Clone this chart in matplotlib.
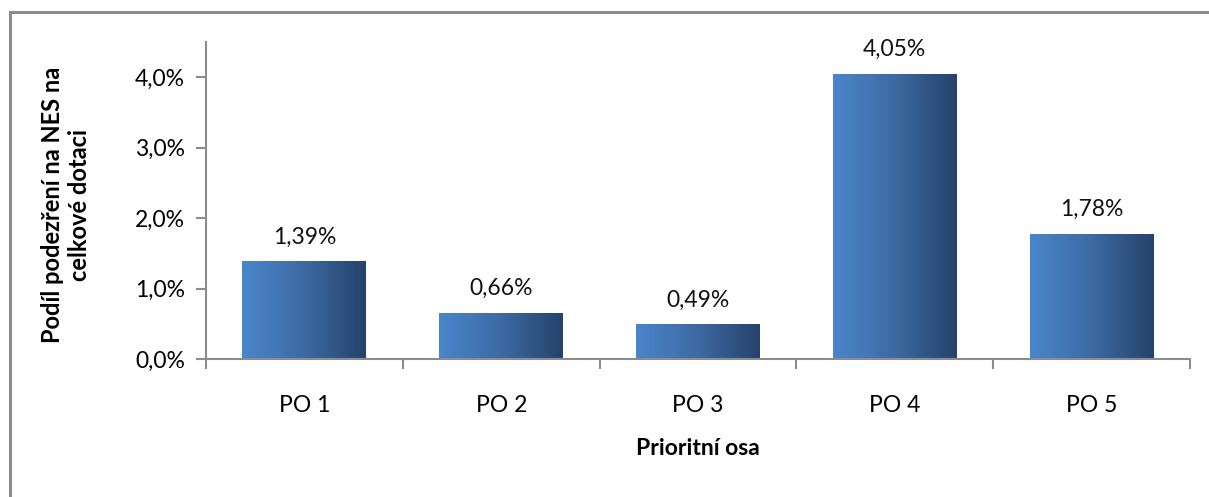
import numpy as np
import matplotlib
matplotlib.use("Agg")
import matplotlib.pyplot as plt
from matplotlib.colors import LinearSegmentedColormap
from matplotlib.lines import Line2D

categories = ["PO 1", "PO 2", "PO 3", "PO 4", "PO 5"]
values = [1.39, 0.66, 0.49, 4.05, 1.78]
value_labels = ["1,39%", "0,66%", "0,49%", "4,05%", "1,78%"]
yticks = [0, 1, 2, 3, 4]
ytick_labels = ["0,0%", "1,0%", "2,0%", "3,0%", "4,0%"]

plt.rcParams['font.family'] = ['Lato', 'DejaVu Sans']

fig = plt.figure(figsize=(12.09, 4.97), dpi=100)
ax = fig.add_axes([206 / 1209, 138 / 497, 984 / 1209, 317 / 497])

# outer chart frame: only the top and left edges fall inside the picture
fx, fy = 10 / 1209, 1 - 12 / 497
fig.add_artist(Line2D([fx, fx], [0, fy], transform=fig.transFigure,
                      color='#8c8c8c', lw=2.2, solid_capstyle='projecting'))
fig.add_artist(Line2D([fx, 1], [fy, fy], transform=fig.transFigure,
                      color='#8c8c8c', lw=2.2, solid_capstyle='projecting'))

grad = LinearSegmentedColormap.from_list('bar', ['#4a86cb', '#3d6aa3', '#25426b'])
x = np.arange(len(categories))
bars = ax.bar(x, values, width=0.63, color='none', edgecolor='none', zorder=2)
g = np.linspace(0, 1, 256).reshape(1, -1)
for b in bars:
    x0, w, h = b.get_x(), b.get_width(), b.get_height()
    im = ax.imshow(g, cmap=grad, aspect='auto', extent=(x0, x0 + w, 0, h),
                   zorder=2, interpolation='bilinear')
    im.set_clip_path(b)

for xi, v, lab in zip(x, values, value_labels):
    ax.text(xi, v + 0.34, lab, ha='center', va='center', fontsize=16.5, color='#111111')

ax.set_xlim(-0.5, len(categories) - 0.5)
ax.set_ylim(0, 4.5)
ax.set_yticks(yticks)
ax.set_yticklabels(ytick_labels, fontsize=16.5)
ax.set_xticks(x)
ax.set_xticklabels(categories, fontsize=16.5)
ax.set_xticks(np.arange(-0.5, len(categories)), minor=True)
ax.tick_params(axis='x', which='major', length=0, pad=26)
ax.tick_params(axis='x', which='minor', length=7, color='#8c8c8c', width=1.5)
ax.tick_params(axis='y', length=7, color='#8c8c8c', width=1.5, pad=8)

ax.spines['top'].set_visible(False)
ax.spines['right'].set_visible(False)
ax.spines['left'].set_color('#8c8c8c')
ax.spines['bottom'].set_color('#8c8c8c')
ax.spines['left'].set_linewidth(1.5)
ax.spines['bottom'].set_linewidth(1.5)

ax.set_xlabel("Prioritní osa", fontsize=16.5, fontweight='bold', labelpad=16)
fig.text(66 / 1209, 1 - 205 / 497, "Podíl podezření na NES na\ncelkové dotaci",
         rotation=90, ha='center', va='center', fontsize=17, fontweight='bold',
         linespacing=1.25)

fig.savefig("out.png", dpi=100)
